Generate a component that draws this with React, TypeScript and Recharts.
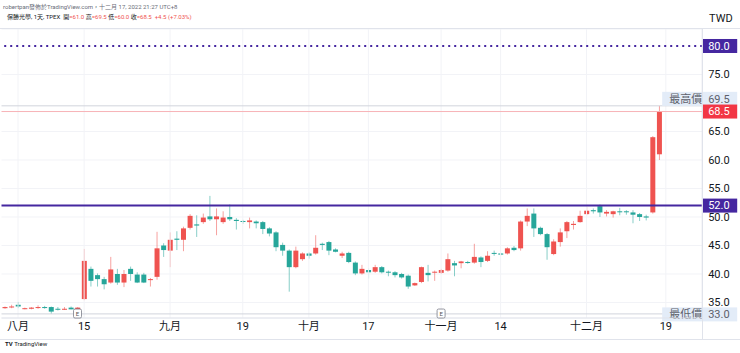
import {
  Bar,
  CartesianGrid,
  ComposedChart,
  ReferenceDot,
  ReferenceLine,
  XAxis,
  YAxis,
} from "recharts";

const FONT = 'Roboto, "Noto Sans CJK TC", "Noto Sans", sans-serif';
const UP = "#ef5350";
const DOWN = "#26a69a";
const LEVEL = "#4527a0";

// trading days (MM-DD), last six are empty space to the right of the last bar
const dates = [
  "07-28", "07-29",
  "08-01", "08-02", "08-03", "08-04", "08-05", "08-08", "08-09", "08-10", "08-11", "08-12",
  "08-15", "08-16", "08-17", "08-18", "08-19", "08-22", "08-23", "08-24", "08-25", "08-26",
  "08-29", "08-30", "08-31",
  "09-01", "09-02", "09-05", "09-06", "09-07", "09-08", "09-12", "09-13", "09-14", "09-15",
  "09-16", "09-19", "09-20", "09-21", "09-22", "09-23", "09-26", "09-27", "09-28", "09-29",
  "09-30",
  "10-03", "10-04", "10-05", "10-06", "10-07", "10-11", "10-12", "10-13", "10-14", "10-17",
  "10-18", "10-19", "10-20", "10-21", "10-24", "10-25", "10-26", "10-27", "10-28", "10-31",
  "11-01", "11-02", "11-03", "11-04", "11-07", "11-08", "11-09", "11-10", "11-11", "11-14",
  "11-15", "11-16", "11-17", "11-18", "11-21", "11-22", "11-23", "11-24", "11-25", "11-28",
  "11-29", "11-30",
  "12-01", "12-02", "12-05", "12-06", "12-07", "12-08", "12-09", "12-12", "12-13", "12-14",
  "12-15", "12-16",
  "12-19", "12-20", "12-21", "12-22", "12-23", "12-26",
];

const opens = [
  34.0, 34.2, 34.6, 33.9, 33.9, 34.1, 34.2, 34.2, 33.9, 33.8, 34.1, 33.8,
  35.6, 40.9, 39.8, 39.1, 38.5, 40.0, 38.5, 40.9, 39.9, 39.9, 39.0, 39.5, 45.0,
  44.1, 46.2, 46.0, 48.1, 48.7, 49.1, 50.1, 49.6, 49.1, 50.0, 49.5, 49.3, 49.1,
  49.2, 49.1, 48.0, 47.3, 45.1, 44.1, 41.2, 42.6, 43.6, 43.6, 45.3, 45.6, 44.3,
  43.2, 43.7, 42.0, 40.1, 40.7, 40.4, 41.2, 40.4, 40.3, 40.0, 39.7, 38.0, 38.6,
  40.2, 40.3, 40.2, 40.6, 41.9, 41.9, 42.1, 42.0, 42.9, 42.3, 43.7, 43.6, 43.6,
  44.6, 44.5, 49.2, 50.6, 48.1, 47.0, 43.5, 45.6, 47.5, 48.6, 49.1, 50.5, 51.2,
  51.9, 50.6, 50.5, 51.0, 51.0, 50.8, 50.5, 50.1, 50.8, 61.0,
];
const highs = [
  34.3, 34.6, 35.1, 34.1, 34.2, 34.5, 34.4, 34.3, 34.2, 34.2, 34.3, 34.2,
  44.4, 41.3, 40.1, 39.5, 43.0, 40.9, 40.7, 41.3, 40.3, 40.2, 39.3, 47.4, 45.4,
  47.3, 47.5, 48.3, 50.5, 50.3, 50.6, 53.7, 51.5, 51.0, 52.2, 49.8, 49.5, 49.9,
  49.4, 49.3, 48.2, 47.5, 45.5, 44.3, 44.8, 43.8, 43.8, 46.8, 45.5, 45.8, 44.5,
  43.9, 43.9, 42.2, 41.6, 41.0, 41.6, 41.4, 40.6, 40.5, 40.2, 39.9, 38.5, 41.3,
  41.6, 40.6, 40.9, 43.6, 42.3, 42.3, 42.3, 45.3, 43.1, 44.0, 44.1, 43.7, 44.7,
  44.9, 49.4, 51.5, 51.5, 48.3, 47.2, 46.1, 48.0, 49.3, 49.3, 51.1, 51.8, 51.5,
  52.2, 51.2, 51.1, 51.6, 51.2, 51.2, 50.7, 50.4, 64.2, 69.5,
];
const lows = [
  33.9, 34.0, 34.0, 33.8, 33.8, 33.9, 33.9, 33.0, 33.6, 33.7, 33.8, 33.6,
  35.4, 37.8, 37.8, 37.3, 38.3, 38.1, 37.7, 38.8, 38.4, 38.4, 37.8, 39.0, 43.0,
  41.2, 44.2, 44.0, 47.8, 46.5, 48.8, 49.3, 46.8, 48.8, 49.3, 47.8, 48.8, 48.0,
  48.0, 47.0, 46.6, 44.0, 43.2, 36.9, 41.0, 42.3, 42.7, 43.4, 44.2, 43.3, 43.8,
  42.8, 41.9, 39.8, 39.9, 39.2, 40.2, 40.1, 39.6, 39.4, 39.2, 37.4, 37.9, 38.4,
  38.7, 38.8, 40.0, 40.4, 39.6, 41.0, 41.8, 41.8, 41.2, 42.1, 43.2, 43.3, 43.4,
  44.0, 44.1, 48.4, 46.5, 46.8, 42.5, 43.3, 44.8, 46.3, 47.8, 49.0, 50.3, 50.6,
  50.0, 50.1, 49.9, 50.3, 50.4, 48.9, 49.3, 49.4, 50.6, 60.0,
];
const closes = [
  34.2, 34.3, 34.3, 34.0, 34.1, 34.2, 34.1, 33.4, 33.8, 33.9, 33.8, 34.1,
  42.3, 38.8, 39.1, 38.2, 40.8, 38.5, 40.0, 40.0, 38.5, 38.5, 39.1, 44.5, 44.2,
  46.0, 46.0, 48.0, 50.2, 48.5, 49.9, 49.6, 50.1, 49.9, 49.6, 49.3, 49.2, 49.4,
  48.9, 47.9, 47.1, 44.7, 44.1, 41.2, 44.1, 43.6, 43.2, 44.6, 45.1, 44.1, 43.9,
  43.6, 42.1, 40.1, 40.9, 40.3, 41.2, 40.3, 40.3, 39.8, 39.4, 37.8, 38.4, 41.2,
  39.8, 40.4, 40.7, 42.6, 41.5, 42.2, 42.0, 43.0, 42.1, 43.2, 43.6, 43.4, 44.5,
  44.2, 49.2, 50.2, 48.0, 47.0, 44.7, 45.7, 47.3, 49.1, 48.8, 50.2, 51.1, 51.0,
  50.8, 50.9, 51.0, 50.9, 50.9, 50.4, 50.0, 49.9, 64.0, 68.5,
];

const tickDates = ["08-01", "08-15", "09-01", "09-19", "10-03", "10-17", "11-01", "11-14", "12-01", "12-19"];
const tickLabels = ["八月", "15", "九月", "19", "十月", "17", "十一月", "14", "十二月", "19"];
const priceTicks = [35, 40, 45, 50, 55, 60, 65, 75];
const eventDates = ["08-12", "11-01"];

const lastClose = closes[closes.length - 1];
const maxHigh = Math.max(...highs);
const minLow = Math.min(...lows);

const rows = dates.map((date, i) =>
  i < opens.length
    ? { date, open: opens[i], high: highs[i], low: lows[i], close: closes[i], range: [lows[i], highs[i]] }
    : { date }
);

function Candle(props: any) {
  const { x, y, width, height, payload } = props;
  if (!payload || payload.range == null) return null;
  const { open, close, high, low } = payload;
  const top = Math.min(y, y + height);
  const bottom = Math.max(y, y + height);
  const k = high > low ? (bottom - top) / (high - low) : 0;
  const py = (v: number) => top + (high - v) * k;
  const color = close >= open ? UP : DOWN;
  const cx = x + width / 2;
  const bTop = py(Math.max(open, close));
  const bH = Math.max(1, Math.abs(py(open) - py(close)));
  return (
    <g>
      <line x1={cx} x2={cx} y1={top} y2={bottom} stroke={color} strokeOpacity={0.55} />
      <rect x={x} y={bTop} width={width} height={bH} fill={color} />
    </g>
  );
}

function tag(text: string, bg: string, fg: string, prefix?: string, dy = 0) {
  return (props: any) => {
    const vb = props.viewBox || {};
    const x = (vb.x ?? 0) + (vb.width ?? 0);
    const y = (vb.y ?? 0) + dy;
    const left = prefix ? x - 40 : x;
    return (
      <g>
        <rect x={left} y={y - 7} width={x + 35 - left} height={14} fill={bg} />
        {prefix && (
          <text x={x - 33} y={y} dy="0.35em" fontSize={11} fontFamily={FONT} fill={fg}>
            {prefix}
          </text>
        )}
        <text x={x + 6} y={y} dy="0.35em" fontSize={11} fontFamily={FONT} fill={fg}>
          {text}
        </text>
      </g>
    );
  };
}

function EventMark(props: any) {
  const { cx, cy } = props;
  return (
    <g>
      <rect x={cx - 4} y={cy - 4} width={8} height={9} rx={1.5} fill="#fff" stroke="#787b86" strokeWidth={0.8} />
      <text x={cx} y={cy + 0.5} dy="0.35em" textAnchor="middle" fontSize={6} fontFamily={FONT} fill="#555">
        E
      </text>
    </g>
  );
}

export default function App() {
  const line = (style: any) => <div style={{ position: "absolute", background: "#e0e3eb", ...style }} />;
  return (
    <div style={{ position: "absolute", left: 0, top: 0, width: 740, height: 353, background: "#fff", fontFamily: FONT }}>
      <ComposedChart width={740} height={353} data={rows} margin={{ top: 29, right: 0, bottom: 0, left: 1.5 }}>
        <CartesianGrid stroke="#f2f3f7" vertical={false} />
        {tickDates.map((d) => (
          <ReferenceLine key={d} x={d} stroke="#f2f3f7" />
        ))}
        <XAxis
          dataKey="date"
          interval={0}
          height={35}
          tickLine={false}
          tickSize={0}
          tickMargin={4}
          axisLine={{ stroke: "#e0e3eb" }}
          tick={{ fill: "#131722", fontSize: 11, fontFamily: FONT }}
          tickFormatter={(v: string) => {
            const i = tickDates.indexOf(v);
            return i >= 0 ? tickLabels[i] : "";
          }}
        />
        <YAxis
          orientation="right"
          width={37.8}
          domain={[32.28, 82.98]}
          allowDataOverflow
          ticks={priceTicks}
          tickLine={false}
          tickSize={0}
          tickMargin={6}
          axisLine={{ stroke: "#e0e3eb" }}
          tick={{ fill: "#131722", fontSize: 11, fontFamily: FONT }}
          tickFormatter={(v: number) => v.toFixed(1)}
        />
        <ReferenceLine y={minLow} stroke="#d1d4dc" label={tag(minLow.toFixed(1), "#e3ecf8", "#5d606b", "最低價", 0.5)} />
        <ReferenceLine y={maxHigh} stroke="#d1d4dc" label={tag(maxHigh.toFixed(1), "#e3ecf8", "#5d606b", "最高價", -7)} />
        <ReferenceLine y={lastClose} stroke="#f7b3b7" label={tag(lastClose.toFixed(1), "#f23645", "#fff")} />
        <ReferenceLine y={52} stroke={LEVEL} strokeWidth={2} label={tag("52.0", LEVEL, "#fff")} />
        <ReferenceLine y={80} stroke={LEVEL} strokeWidth={2} strokeDasharray="2 4" label={tag("80.0", LEVEL, "#fff")} />
        <Bar dataKey="range" barSize={5} shape={(p: any) => <Candle {...p} />} isAnimationActive={false} />
        {eventDates.map((d) => (
          <ReferenceDot key={d} x={d} y={33.15} r={4} shape={(p: any) => <EventMark {...p} />} />
        ))}
      </ComposedChart>

      {line({ left: 0, top: 28, width: 740, height: 1 })}
      {line({ left: 702, top: 28, width: 1, height: 311 })}
      {line({ left: 0, top: 339, width: 740, height: 1 })}

      <div style={{ position: "absolute", left: 3, top: 2, fontSize: 6, color: "#6a6d78", whiteSpace: "nowrap" }}>
        robertpan發佈於TradingView.com，十二月 17, 2022 21:27 UTC+8
      </div>
      <div style={{ position: "absolute", left: 7, top: 12, fontSize: 6, color: "#131722", whiteSpace: "nowrap" }}>
        保勝光學, 1天, TPEX&nbsp;&nbsp;開<span style={{ color: UP }}>=61.0</span>&nbsp;高
        <span style={{ color: UP }}>=69.5</span>&nbsp;低<span style={{ color: UP }}>=60.0</span>&nbsp;收
        <span style={{ color: UP }}>=68.5&nbsp;&nbsp;+4.5 (+7.03%)</span>
      </div>
      <div style={{ position: "absolute", left: 709, top: 12, fontSize: 11, color: "#131722" }}>TWD</div>
      <div style={{ position: "absolute", left: 5, top: 340, fontSize: 6, color: "#131722", fontWeight: 700 }}>
        TV <span style={{ fontWeight: 400 }}>TradingView</span>
      </div>
    </div>
  );
}
